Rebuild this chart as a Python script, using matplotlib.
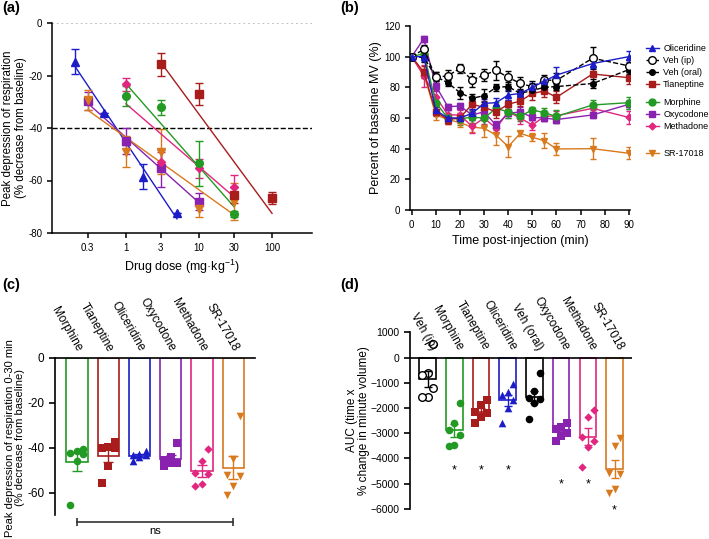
import numpy as np
import matplotlib
matplotlib.use('Agg')
import matplotlib.pyplot as plt
from matplotlib.lines import Line2D
from matplotlib.ticker import NullLocator

plt.rcParams['font.family'] = ['Liberation Sans', 'DejaVu Sans']
plt.rcParams['mathtext.default'] = 'regular'
plt.rcParams['axes.unicode_minus'] = False

# colours per drug
c_oli = '#1c1cc8'
c_tia = '#a81c1c'
c_mor = '#239a23'
c_oxy = '#8a22b0'
c_met = '#e0267e'
c_sr = '#d9791e'

######################## (a) dose response ########################
oli_dose = [0.2, 0.5, 1, 1.7, 5]
oli_resp = [-14.7, -34.4, -45, -58.5, -72.3]
oli_err = [4.9, 0, 0, 4.6, 0]

oxy_dose = [0.3, 1, 3, 10]
oxy_resp = [-29.7, -45, -55.4, -68]
oxy_err = [3.5, 5, 7, 3.4]

sr_dose = [0.3, 1, 3, 10, 30]
sr_resp = [-29.5, -49, -49, -71, -68]
sr_err = [3.8, 6, 8.5, 2.8, 7.2]

met_dose = [1, 3, 10, 30]
met_resp = [-23.4, -52.8, -55.4, -62.3]
met_err = [2.5, 3.5, 3.5, 4.5]

mor_dose = [1, 3, 10, 30]
mor_resp = [-27.8, -32.1, -53.5, -72.8]
mor_err = [3.7, 2.9, 8.5, 1]

tia_dose = [3, 10, 30, 100]
tia_resp = [-15.7, -27, -65.5, -66.8]
tia_err = [4.3, 4.3, 3, 2.3]

######################## (b) time course ########################
time = [0, 5, 10, 15, 20, 25, 30, 35, 40, 45, 50, 55, 60, 75, 90]
oli_mv = [100, 100, 65, 60, 60, 63, 69.5, 70, 75, 76, 80, 84, 88, 95.5, 100]
oli_mv_err = [0, 3, 3, 2, 2, 3, 3, 3, 3, 2, 3, 3, 5, 3, 3.5]
vip_mv = [100, 104.8, 86.5, 87.5, 92.4, 84.8, 88, 91, 86.5, 82.6, 80.4, 84.8, 84.5, 99, 94]
vip_mv_err = [0, 3, 3.5, 4, 3, 4.5, 4, 6.5, 4, 4, 4, 3.5, 5, 7, 4]
vor_mv = [100, 99.5, 87, 83, 76.5, 72.8, 74.6, 80, 80.5, 76, 78, 80, 80.5, 82.5, 91.5]
vor_mv_err = [0, 3, 3, 2, 4, 3, 4, 2.5, 3, 2, 3, 3, 2, 3, 3]
tia_mv = [100, 90, 64, 59, 60, 68.9, 67, 64, 69, 71, 76, 77.6, 73.5, 88.7, 86.3]
tia_mv_err = [0, 4, 3, 3, 3, 3, 4, 4, 3, 3, 4, 4, 4, 5, 4]
mor_mv = [100, 102, 70, 60, 59.5, 60.5, 60, 66.3, 64, 61.3, 65.2, 63.5, 61, 68.5, 70]
mor_mv_err = [0, 3, 3, 3, 4, 4, 5, 4, 4, 3, 2, 3, 4, 3, 4]
oxy_mv = [100, 111.7, 80.9, 67.4, 67.8, 62, 64, 55.2, 63, 64, 60.4, 60, 59, 62, 68.9]
oxy_mv_err = [0, 2, 3, 2, 2, 3, 3, 3, 3, 3, 2, 2, 2, 2, 3]
met_mv = [100, 87.4, 74, 62, 62, 54.5, 60, 53.3, 64, 60, 55.4, 61, 61.5, 66.3, 60.4]
met_mv_err = [0, 7, 4, 3, 3, 4, 4, 3, 3, 4, 3, 3, 3, 3, 4]
sr_mv = [100, 89, 62, 59, 57, 54, 53.3, 48.9, 41.3, 50, 47.4, 45.2, 39.8, 40, 37]
sr_mv_err = [0, 3, 3, 3, 3, 3, 6, 6.5, 7, 1.5, 2.5, 5, 4, 7, 4]

######################## (c) peak depression 0-30 min ########################
c_names = ['Morphine', 'Tianeptine', 'Oliceridine', 'Oxycodone', 'Methadone', 'SR-17018']
peak_mor = [-42.5, -41.5, -40.5, -43, -46, -65.5]
peak_tia = [-40.3, -40.3, -37.3, -39.6, -48, -55.8]
peak_oli = [-43.5, -44, -43.5, -41.5, -46, -43]
peak_oxy = [-38, -44, -47, -45.5, -47, -48]
peak_met = [-40.7, -45.9, -51.8, -51.4, -57.3, -56.1]
peak_sr = [-26, -45, -52.5, -52, -57, -61]

######################## (d) AUC ########################
d_names = ['Veh (ip)', 'Morphine', 'Tianeptine', 'Oliceridine', 'Veh (oral)',
           'Oxycodone', 'Methadone', 'SR-17018']
auc_vip = [540, -600, -680, -1200, -1560, -1560]
auc_mor = [-1810, -2600, -2870, -3070, -3530, -3460]
auc_tia = [-1700, -1900, -2150, -2200, -2350, -2600]
auc_oli = [-1050, -1350, -1500, -1700, -2000, -2600]
auc_vor = [-620, -1310, -1610, -1660, -1810, -2440]
auc_oxy = [-2600, -2750, -2850, -3000, -3100, -3300]
auc_met = [-2100, -2370, -3330, -3160, -3560, -4330]
auc_sr = [-3500, -3200, -4590, -4610, -5380, -5220]
auc_star = [None, -4500, -4500, -4500, None, -5050, -5050, -6050]


def spread(vals, step=0.21):
    order = np.argsort(vals)
    off = np.zeros(len(vals))
    pattern = [-step, 0, step]
    for k, idx in enumerate(order):
        off[idx] = pattern[k % 3]
    return off


fig = plt.figure(figsize=(7.09, 5.39), dpi=100)
W, H = 709, 539


def px_axes(l, t, r, b):
    return fig.add_axes([l / W, 1 - b / H, (r - l) / W, (b - t) / H])


def style(ax, fs):
    for s in ['top', 'right']:
        ax.spines[s].set_visible(False)
    for s in ['left', 'bottom']:
        ax.spines[s].set_linewidth(1.1)
    ax.tick_params(labelsize=fs, width=1.1, length=3.5)


############ panel a
ax_a = px_axes(52, 23, 312, 233)
a_series = [(oli_dose, oli_resp, oli_err, c_oli, '^', 5.5),
            (oxy_dose, oxy_resp, oxy_err, c_oxy, 's', 5.5),
            (sr_dose, sr_resp, sr_err, c_sr, 'v', 5.5),
            (met_dose, met_resp, met_err, c_met, 'D', 4),
            (mor_dose, mor_resp, mor_err, c_mor, 'o', 5.5),
            (tia_dose, tia_resp, tia_err, c_tia, 's', 5.5)]
ax_a.axhline(0, color='#bbbbbb', ls=':', lw=1.3)
ax_a.axhline(-40, color='k', ls='--', lw=1)
for dose, resp, err, col, mk, ms in a_series:
    ax_a.errorbar(dose, resp, yerr=err, fmt=mk, color=col, ms=ms, capsize=3,
                  elinewidth=1, capthick=1)
    slope, icpt = np.polyfit(np.log10(dose), resp, 1)
    xx = np.array([min(dose), max(dose)])
    ax_a.plot(xx, slope * np.log10(xx) + icpt, color=col, lw=1)
ax_a.set_xscale('log')
ax_a.set_xlim(0.097, 353)
ax_a.set_ylim(-80, 0)
ax_a.set_xticks([0.3, 1, 3, 10, 30, 100], ['0.3', '1', '3', '10', '30', '100'])
ax_a.xaxis.set_minor_locator(NullLocator())
ax_a.set_yticks([0, -20, -40, -60, -80])
style(ax_a, 7)
ax_a.set_xlabel('Drug dose (mg·kg$^{-1}$)', fontsize=9)
ax_a.set_ylabel('Peak depression of respiration\n(% decrease from baseline)',
                fontsize=8.3, linespacing=1.05)
ax_a.yaxis.set_label_coords(-0.098, 0.5)

############ panel b
ax_b = px_axes(410, 26, 630, 210)
b_series = [('Oliceridine', oli_mv, oli_mv_err, c_oli, '^', '-', c_oli, 5),
            ('Veh (ip)', vip_mv, vip_mv_err, 'k', 'o', '--', 'white', 5.5),
            ('Veh (oral)', vor_mv, vor_mv_err, 'k', 'o', '--', 'k', 4),
            ('Tianeptine', tia_mv, tia_mv_err, c_tia, 's', '-', c_tia, 5),
            ('Morphine', mor_mv, mor_mv_err, c_mor, 'o', '-', c_mor, 5),
            ('Oxycodone', oxy_mv, oxy_mv_err, c_oxy, 's', '-', c_oxy, 5),
            ('Methadone', met_mv, met_mv_err, c_met, 'D', '-', c_met, 3.5),
            ('SR-17018', sr_mv, sr_mv_err, c_sr, 'v', '-', c_sr, 5)]
handles = []
for name, y, e, col, mk, ls, mfc, ms in b_series[::-1]:
    ax_b.errorbar(time, y, yerr=e, color=col, marker=mk, ls=ls, mfc=mfc, mec=col,
                  ms=ms, lw=1, capsize=2.5, elinewidth=1, capthick=1)
for name, y, e, col, mk, ls, mfc, ms in b_series:
    handles.append(Line2D([], [], color=col, marker=mk, ls=ls, mfc=mfc, mec=col,
                          ms=ms, lw=1, label=name))
ax_b.set_xlim(-0.7, 90.5)
ax_b.set_ylim(0, 120)
ax_b.set_xticks(range(0, 91, 10))
ax_b.set_yticks(range(0, 121, 20))
style(ax_b, 7)
ax_b.set_xlabel('Time post-injection (min)', fontsize=9)
ax_b.set_ylabel('Percent of baseline MV (%)', fontsize=9)
ax_b.yaxis.set_label_coords(-0.125, 0.5)

leg_kw = dict(loc='upper left', frameon=False, fontsize=6.5, handlelength=1.4,
              handletextpad=0.5, labelspacing=0.33, borderpad=0, borderaxespad=0)
fig.legend(handles=handles[:4], bbox_to_anchor=(646 / W, 1 - 44 / H), **leg_kw)
fig.legend(handles=handles[4:7], bbox_to_anchor=(646 / W, 1 - 98 / H), **leg_kw)
fig.legend(handles=handles[7:], bbox_to_anchor=(646 / W, 1 - 149 / H), **leg_kw)

############ panel c
ax_c = px_axes(55, 357.7, 255, 515)
c_points = [peak_mor, peak_tia, peak_oli, peak_oxy, peak_met, peak_sr]
c_colors = [c_mor, c_tia, c_oli, c_oxy, c_met, c_sr]
c_markers = ['o', 's', '^', 's', 'D', 'v']
c_sizes = [30, 30, 30, 30, 18, 30]
for i, (pts, col, mk, sz) in enumerate(zip(c_points, c_colors, c_markers, c_sizes)):
    pts = np.array(pts)
    m = pts.mean()
    sem = pts.std(ddof=1) / np.sqrt(len(pts))
    ax_c.bar(i, m, width=0.68, facecolor='none', edgecolor=col, lw=1.2)
    ax_c.scatter(i + spread(pts), pts, marker=mk, s=sz, color=col, zorder=3, lw=0)
    ax_c.errorbar(i, m, yerr=sem, color=col, capsize=3.5, lw=1, capthick=1, zorder=4)
    ax_c.annotate(c_names[i], xy=(i, 0), xytext=(1.5, 5), textcoords='offset points',
                  rotation=-60, ha='right', va='center', rotation_mode='anchor',
                  fontsize=8.5, annotation_clip=False)
ax_c.set_xlim(-0.7, 5.7)
ax_c.set_ylim(-70, 0)
ax_c.spines['right'].set_visible(False)
ax_c.spines['bottom'].set_visible(False)
ax_c.spines['top'].set_linewidth(1.2)
ax_c.spines['left'].set_linewidth(1.2)
ax_c.set_xticks([])
ax_c.set_yticks([0, -20, -40, -60])
ax_c.tick_params(labelsize=8.5, width=1.2, length=4)
ax_c.set_ylabel('Peak depression of respiration 0-30 min\n(% decrease from baseline)',
                fontsize=8, linespacing=1.05)
ax_c.yaxis.set_label_coords(-0.15, 0.49)
ax_c.plot([0, 5], [-73, -73], color='#333333', lw=1.2, clip_on=False)
ax_c.plot([0, 5], [-73, -73], color='#333333', ls='none', marker='|', ms=6,
          mew=1.2, clip_on=False)
ax_c.text(2.5, -77.3, 'ns', ha='center', va='center', fontsize=8)

############ panel d
ax_d = px_axes(410, 332.3, 632, 508.7)
d_points = [auc_vip, auc_mor, auc_tia, auc_oli, auc_vor, auc_oxy, auc_met, auc_sr]
d_colors = ['k', c_mor, c_tia, c_oli, 'k', c_oxy, c_met, c_sr]
d_markers = ['o', 'o', 's', '^', 'o', 's', 'D', 'v']
d_sizes = [30, 30, 30, 30, 30, 30, 18, 30]
for i, (pts, col, mk, sz) in enumerate(zip(d_points, d_colors, d_markers, d_sizes)):
    pts = np.array(pts)
    m = pts.mean()
    sem = pts.std(ddof=1) / np.sqrt(len(pts))
    ax_d.bar(i, m, width=0.62, facecolor='none', edgecolor=col, lw=1.2)
    if i == 0:
        ax_d.scatter(i + spread(pts), pts, marker=mk, s=sz, facecolor='white',
                     edgecolor=col, zorder=3, lw=1)
    else:
        ax_d.scatter(i + spread(pts), pts, marker=mk, s=sz, color=col, zorder=3, lw=0)
    ax_d.errorbar(i, m, yerr=sem, color=col, capsize=3, lw=1, capthick=1, zorder=4)
    ax_d.annotate(d_names[i], xy=(i, 0), xytext=(4, 6), textcoords='offset points',
                  rotation=-60, ha='right', va='center', rotation_mode='anchor',
                  fontsize=8.5, annotation_clip=False)
    if auc_star[i] is not None:
        ax_d.text(i, auc_star[i], '*', ha='center', va='center', fontsize=9)
ax_d.axhline(0, color='k', lw=1.2)
ax_d.set_xlim(-0.66, 7.65)
ax_d.set_ylim(-6000, 1000)
for s in ['top', 'right', 'bottom']:
    ax_d.spines[s].set_visible(False)
ax_d.spines['left'].set_linewidth(1.2)
ax_d.set_xticks([])
ax_d.set_yticks(range(1000, -6001, -1000),
                [f'{v}'.replace('-', '\u2212') for v in range(1000, -6001, -1000)])
ax_d.tick_params(labelsize=7.5, width=1.2, length=4)
ax_d.set_ylabel('AUC (time x\n% change in minute volume)', fontsize=8.5,
                linespacing=1.05)
ax_d.yaxis.set_label_coords(-0.18, 0.5)

for lab, x, y in [('(a)', 2, 8), ('(b)', 340, 8), ('(c)', 2, 285), ('(d)', 340, 285)]:
    fig.text(x / W, 1 - y / H, lab, fontsize=10.5, fontweight='bold', va='center')

fig.savefig('out.png', dpi=100)
